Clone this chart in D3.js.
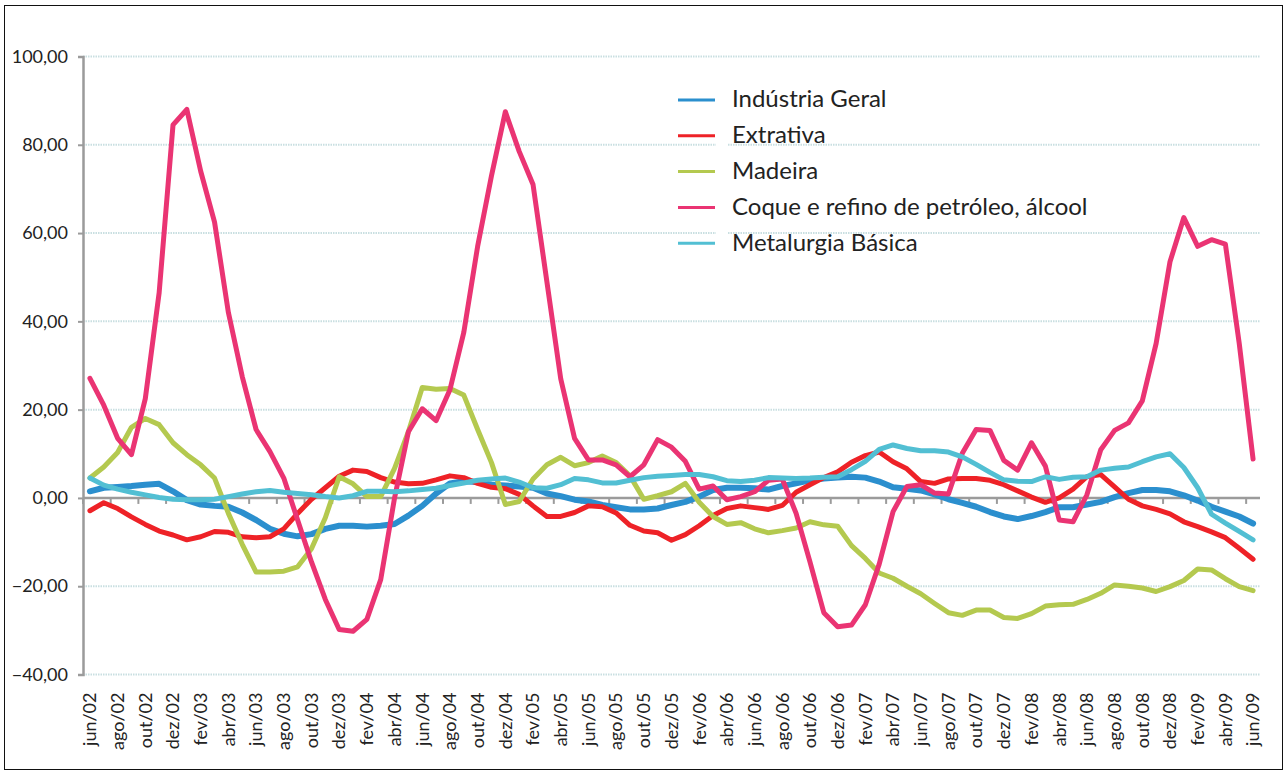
<!DOCTYPE html>
<html>
<head>
<meta charset="utf-8">
<script src="https://cdn.jsdelivr.net/npm/d3@7"></script>
<style>
  body { margin: 0; background: #fff; }
  text { font-family: Lato, "Open Sans", sans-serif; fill: #222; }
</style>
</head>
<body>
<script>
// month names used for the category labels (jun/02 .. jun/09)
const meses = ["jan", "fev", "mar", "abr", "mai", "jun", "jul", "ago", "set", "out", "nov", "dez"];
const categorias = [];
for (let a = 2002; a <= 2009; a++) {
  for (let m = 0; m < 12; m++) {
    if ((a == 2002 && m < 5) || (a == 2009 && m > 5)) continue;
    categorias.push(meses[m] + "/" + String(a).slice(2));
  }
}

const yTicks = [-40, -20, 0, 20, 40, 60, 80, 100];

const industriaGeral = [1.5, 2.3, 2.5, 2.7, 3.0, 3.2, 1.5, -0.5, -1.5, -1.8, -2.0, -3.3, -5.0, -7.0, -8.1, -8.7, -8.2, -7.0, -6.3, -6.3, -6.5, -6.3, -5.9, -4.0, -1.8, 1.0, 3.3, 3.8, 3.6, 3.0, 2.8, 2.6, 2.3, 1.0, 0.4, -0.4, -0.8, -1.6, -2.1, -2.6, -2.6, -2.4, -1.6, -0.9, 0.3, 1.8, 2.3, 2.3, 2.2, 1.9, 2.7, 3.3, 4.0, 4.4, 4.6, 4.8, 4.6, 3.7, 2.4, 2.1, 1.7, 0.8, -0.3, -1.1, -2.0, -3.2, -4.2, -4.8, -4.1, -3.2, -2.1, -2.1, -1.5, -0.9, 0.2, 1.1, 1.8, 1.8, 1.5, 0.6, -0.6, -2.0, -3.1, -4.2, -5.8];

const extrativa = [-2.9, -1.1, -2.4, -4.3, -6.0, -7.5, -8.4, -9.5, -8.8, -7.6, -7.8, -8.8, -9.0, -8.8, -7.0, -3.5, -0.3, 2.3, 4.9, 6.3, 6.0, 4.6, 3.6, 3.2, 3.3, 4.1, 5.0, 4.6, 3.3, 2.4, 2.1, 0.8, -1.8, -4.2, -4.2, -3.3, -1.8, -2.0, -3.4, -6.2, -7.5, -7.9, -9.6, -8.3, -6.3, -4.0, -2.4, -1.8, -2.2, -2.6, -1.7, 1.3, 3.0, 4.6, 5.9, 8.1, 9.6, 10.4, 8.2, 6.6, 3.7, 3.3, 4.3, 4.4, 4.4, 4.0, 3.0, 1.6, 0.2, -1.0, 0.0, 2.0, 4.8, 5.3, 2.5, -0.3, -1.8, -2.6, -3.6, -5.4, -6.5, -7.7, -9.0, -11.4, -13.9];

const madeira = [4.5, 7.0, 10.3, 16.0, 18.0, 16.6, 12.5, 9.8, 7.5, 4.5, -3.5, -10.5, -16.8, -16.8, -16.6, -15.6, -11.5, -4.5, 4.8, 3.2, 0.3, 0.3, 6.7, 15.0, 25.0, 24.6, 24.8, 23.3, 15.5, 8.0, -1.5, -0.8, 4.3, 7.5, 9.2, 7.3, 8.0, 9.5, 8.0, 5.0, -0.3, 0.5, 1.4, 3.3, -1.0, -4.2, -6.0, -5.6, -7.0, -7.9, -7.4, -6.8, -5.4, -6.1, -6.4, -10.8, -13.7, -17.0, -18.2, -20.0, -21.7, -23.9, -26.0, -26.6, -25.4, -25.4, -27.1, -27.3, -26.2, -24.5, -24.2, -24.1, -23.0, -21.6, -19.7, -20.0, -20.4, -21.2, -20.1, -18.7, -16.1, -16.3, -18.3, -20.1, -21.0];

const coque = [27.1, 21.0, 13.5, 9.8, 22.5, 46.5, 84.5, 88.0, 74.0, 62.5, 42.0, 27.5, 15.5, 10.5, 4.5, -5.0, -14.5, -23.0, -29.8, -30.2, -27.5, -18.5, 0.0, 15.0, 20.2, 17.5, 24.5, 37.5, 57.0, 73.0, 87.5, 78.5, 71.0, 49.0, 27.0, 13.5, 8.6, 8.6, 7.5, 4.8, 7.5, 13.2, 11.5, 8.3, 2.0, 2.7, -0.4, 0.3, 1.4, 4.0, 4.3, -3.5, -14.5, -26.0, -29.2, -28.8, -24.2, -15.0, -3.1, 2.6, 3.0, 1.1, 0.9, 10.1, 15.5, 15.3, 8.5, 6.3, 12.5, 7.2, -5.0, -5.4, 0.7, 10.9, 15.3, 17.0, 22.0, 35.0, 53.5, 63.5, 57.0, 58.5, 57.5, 35.0, 8.8];

const metalurgia = [4.5, 2.9, 2.0, 1.3, 0.7, 0.1, -0.3, -0.4, -0.4, -0.3, 0.3, 0.9, 1.4, 1.7, 1.3, 1.0, 0.7, 0.3, 0.0, 0.5, 1.5, 1.5, 1.4, 1.6, 1.9, 2.2, 2.8, 3.4, 4.0, 4.3, 4.5, 3.6, 2.3, 2.2, 3.0, 4.4, 4.1, 3.4, 3.4, 4.0, 4.6, 4.9, 5.1, 5.3, 5.3, 4.8, 3.9, 3.7, 4.0, 4.6, 4.5, 4.4, 4.5, 4.7, 4.8, 6.4, 8.3, 11.0, 12.0, 11.2, 10.7, 10.7, 10.4, 9.3, 7.6, 5.8, 4.1, 3.8, 3.7, 4.8, 4.2, 4.7, 4.8, 6.3, 6.7, 7.0, 8.2, 9.3, 10.0, 6.9, 2.3, -3.7, -5.7, -7.6, -9.5];

const seriesNomes = ["Indústria Geral", "Extrativa", "Madeira", "Coque e refino de petróleo, álcool", "Metalurgia Básica"];
const seriesCores = ["#2b8fce", "#ee2227", "#b4c94f", "#ea3473", "#52bfd3"];
const seriesValores = [industriaGeral, extrativa, madeira, coque, metalurgia];

let canvasW = 1285;
let canvasH = 772;
let plotLeft = 83, plotRight = 1260, plotTop = 56.5, plotBottom = 674.5;

let svg = d3.select("body").append("svg")
  .attr("width", canvasW)
  .attr("height", canvasH);

// outer frame
svg.append("rect")
  .attr("x", 4.5).attr("y", 5.5)
  .attr("width", 1278).attr("height", 764)
  .attr("fill", "white")
  .attr("stroke", "#111")
  .attr("stroke-width", 1);

let x = d3.scaleBand()
  .domain(categorias)
  .range([plotLeft, plotRight]);

let y = d3.scaleLinear()
  .domain([-40, 100])
  .range([plotBottom, plotTop]);

const fmt = d3.formatLocale({ decimal: ",", thousands: ".", grouping: [3], currency: ["R$", ""] }).format(".2f");

// gridlines
svg.append("g")
  .selectAll("line")
  .data(yTicks)
  .enter()
    .append("line")
    .attr("x1", plotLeft)
    .attr("x2", plotRight)
    .attr("y1", d => y(d))
    .attr("y2", d => y(d))
    .attr("stroke", "#c9dfe1")
    .attr("stroke-width", 2)
    .attr("stroke-dasharray", "1.5 1");

// y axis
let yAxis = svg.append("g")
  .attr("transform", "translate(" + plotLeft + ",0)")
  .call(d3.axisLeft(y).tickValues(yTicks).tickSize(5).tickPadding(10).tickFormat(fmt));
yAxis.select(".domain").attr("stroke", "#9b9b9b").attr("stroke-width", 2.5);
yAxis.selectAll(".tick line").attr("stroke", "#9b9b9b").attr("stroke-width", 2);
yAxis.selectAll(".tick text").attr("font-size", "18px").attr("font-family", "Lato, sans-serif").attr("fill", "#222");

// x axis on the zero line, ticks every second category boundary
let xTickCats = categorias.filter((d, i) => i % 2 == 0);
let xAxisG = svg.append("g");
xAxisG.append("line")
  .attr("x1", plotLeft).attr("x2", plotRight)
  .attr("y1", y(0)).attr("y2", y(0))
  .attr("stroke", "#9b9b9b")
  .attr("stroke-width", 2.5);
xAxisG.selectAll(".tk")
  .data(xTickCats)
  .enter()
    .append("line")
    .attr("x1", d => x(d)).attr("x2", d => x(d))
    .attr("y1", y(0)).attr("y2", y(0) + 6)
    .attr("stroke", "#9b9b9b")
    .attr("stroke-width", 2);

// category labels at the bottom of the plot
svg.append("g")
  .selectAll("text")
  .data(xTickCats)
  .enter()
    .append("text")
    .attr("transform", d => "translate(" + (x(d) + x.bandwidth() / 2) + "," + (plotBottom + 18) + ") rotate(-90)")
    .attr("text-anchor", "end")
    .attr("dy", "0.35em")
    .attr("font-size", "18px")
    .text(d => d);

// the series
let line = d3.line()
  .x((d, i) => x(categorias[i]) + x.bandwidth() / 2)
  .y(d => y(d));

svg.append("g")
  .selectAll("path")
  .data(seriesValores)
  .enter()
    .append("path")
    .attr("d", d => line(d))
    .attr("fill", "none")
    .attr("stroke", (d, i) => seriesCores[i])
    .attr("stroke-width", (d, i) => i == 0 ? 6 : 5)
    .attr("stroke-linejoin", "round")
    .attr("stroke-linecap", "round");

// legend
let legend = svg.append("g");
legend.append("rect")
  .attr("x", 716).attr("y", 82)
  .attr("width", 12).attr("height", 175)
  .attr("fill", "white");

let items = legend.selectAll(".item")
  .data(seriesNomes)
  .enter()
    .append("g")
    .attr("transform", (d, i) => "translate(678," + (99 + i * 35.8) + ")");

items.append("line")
  .attr("x1", 0).attr("x2", 37)
  .attr("y1", 1).attr("y2", 1)
  .attr("stroke", (d, i) => seriesCores[i])
  .attr("stroke-width", 3);

items.append("text")
  .attr("x", 54)
  .attr("y", 0)
  .attr("dy", "0.35em")
  .attr("font-size", "24px")
  .text(d => d);
</script>
</body>
</html>
